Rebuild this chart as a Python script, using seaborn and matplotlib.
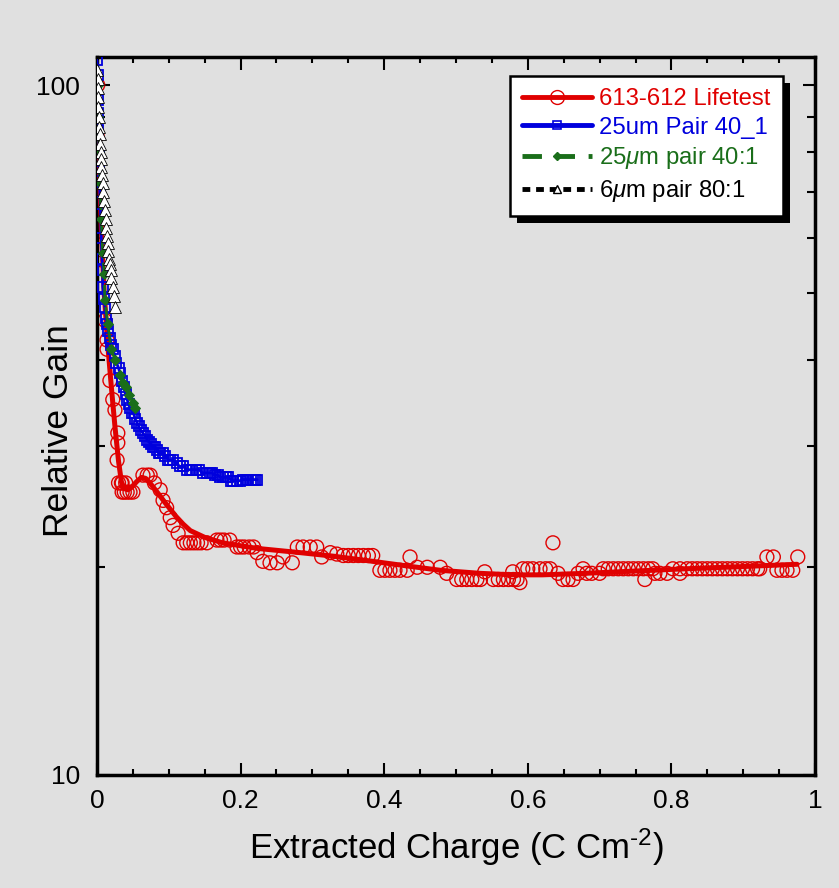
import numpy as np
import pandas as pd
import seaborn as sns
import matplotlib.pyplot as plt
from matplotlib.lines import Line2D
from matplotlib.patches import Rectangle
from matplotlib.transforms import IdentityTransform
from matplotlib import ticker

# 613-612 Lifetest, measured points
red_x = [0.001, 0.000, 0.000, 0.001, 0.001, 0.006, 0.006, 0.011, 0.014, 0.014, 0.018, 0.022,
         0.025, 0.029, 0.029, 0.028, 0.035, 0.035, 0.030, 0.034, 0.038, 0.042, 0.046, 0.050,
         0.040, 0.064, 0.070, 0.074, 0.080, 0.088, 0.092, 0.097, 0.102, 0.106, 0.113,
         0.120, 0.125, 0.130, 0.135, 0.140, 0.145, 0.153, 0.167, 0.172, 0.177, 0.185,
         0.195, 0.200, 0.205, 0.212, 0.218, 0.223, 0.231, 0.241, 0.251, 0.259, 0.272,
         0.279, 0.287, 0.297, 0.306, 0.313, 0.325, 0.334, 0.343, 0.350, 0.357, 0.364,
         0.371, 0.378, 0.384, 0.394, 0.401, 0.408, 0.415, 0.422, 0.432, 0.436, 0.446,
         0.460, 0.478, 0.487, 0.501, 0.508, 0.515, 0.522, 0.529, 0.534, 0.540, 0.552,
         0.559, 0.566, 0.573, 0.580, 0.585, 0.579, 0.593, 0.600, 0.607, 0.617, 0.589,
         0.625, 0.631, 0.635, 0.642, 0.649, 0.656, 0.663, 0.670, 0.677, 0.682, 0.689,
         0.700, 0.705, 0.712, 0.719, 0.726, 0.733, 0.740, 0.747, 0.754, 0.761, 0.768,
         0.774, 0.763, 0.777, 0.784, 0.794, 0.802, 0.812, 0.812, 0.822, 0.829, 0.836,
         0.843, 0.850, 0.857, 0.864, 0.871, 0.878, 0.885, 0.892, 0.899, 0.906, 0.913,
         0.920, 0.923, 0.933, 0.942, 0.947, 0.954, 0.961, 0.969, 0.976]
red_y = [100, 84.5, 73.5, 67.5, 63.4, 57.7, 55.8, 45.6, 42.7, 41.4, 37.3, 35.0,
         33.8, 31.3, 30.3, 28.6, 26.5, 25.7, 26.5, 26.5, 25.7, 25.7, 25.7, 25.7,
         26.5, 27.2, 27.2, 27.2, 26.5, 25.9, 25.0, 24.4, 23.6, 23.0, 22.4,
         21.7, 21.7, 21.7, 21.7, 21.7, 21.7, 21.7, 21.9, 21.9, 21.9, 21.9,
         21.4, 21.4, 21.4, 21.4, 21.4, 21.0, 20.4, 20.3, 20.3, 20.7, 20.3,
         21.4, 21.4, 21.4, 21.4, 20.7, 21.0, 20.9, 20.8, 20.8, 20.8, 20.8,
         20.8, 20.8, 20.8, 19.8, 19.8, 19.8, 19.8, 19.8, 19.8, 20.7, 20.0,
         20.0, 20.0, 19.6, 19.2, 19.2, 19.2, 19.2, 19.2, 19.2, 19.7, 19.2,
         19.2, 19.2, 19.2, 19.2, 19.2, 19.7, 19.9, 19.9, 19.9, 19.9, 19.0,
         19.9, 19.9, 21.7, 19.6, 19.2, 19.2, 19.2, 19.6, 19.9, 19.6, 19.6,
         19.6, 19.9, 19.9, 19.9, 19.9, 19.9, 19.9, 19.9, 19.9, 19.9, 19.9,
         19.9, 19.2, 19.6, 19.6, 19.6, 19.9, 19.9, 19.6, 19.9, 19.9, 19.9,
         19.9, 19.9, 19.9, 19.9, 19.9, 19.9, 19.9, 19.9, 19.9, 19.9, 19.9,
         19.9, 19.9, 20.7, 20.7, 19.8, 19.8, 19.8, 19.8, 20.7]

# 613-612 Lifetest, smooth curve
red_fit_x = [0.001, 0.003, 0.006, 0.010, 0.015, 0.020, 0.025, 0.030, 0.034, 0.038, 0.043,
             0.048, 0.055, 0.062, 0.068, 0.075, 0.085, 0.095, 0.110, 0.120, 0.130, 0.150,
             0.175, 0.223, 0.283, 0.330, 0.384, 0.430, 0.478, 0.533, 0.580, 0.620, 0.680,
             0.750, 0.820, 0.900, 0.975]
red_fit_y = [100, 78, 62, 50, 42, 36.5, 32, 28.5, 26.6, 26.0, 25.9,
             26.1, 26.6, 27.0, 26.9, 26.4, 25.6, 24.8, 23.7, 23.1, 22.6, 22.1,
             21.7, 21.3, 21.0, 20.75, 20.4, 20.1, 19.8, 19.6, 19.5, 19.5, 19.6,
             19.75, 19.9, 20.05, 20.2]

# 25um Pair 40_1
blue_x = [0.000, 0.001, 0.001, 0.002, 0.002, 0.003, 0.003, 0.004, 0.005, 0.006, 0.007,
          0.008, 0.008, 0.010, 0.011, 0.013, 0.014, 0.016, 0.018, 0.020, 0.022, 0.025,
          0.027, 0.030, 0.032, 0.035, 0.037, 0.040, 0.042, 0.044, 0.046, 0.049, 0.051,
          0.053, 0.056, 0.058, 0.061, 0.064, 0.067, 0.070, 0.072, 0.075, 0.078, 0.081,
          0.083, 0.086, 0.088, 0.092, 0.095, 0.099, 0.102, 0.106, 0.111, 0.115, 0.120,
          0.125, 0.129, 0.133, 0.138, 0.142, 0.147, 0.153, 0.157, 0.160, 0.164, 0.168,
          0.172, 0.175, 0.179, 0.183, 0.187, 0.190, 0.195, 0.199, 0.203, 0.207, 0.210,
          0.214, 0.217, 0.220, 0.223]
blue_y = [108.6, 103.4, 95, 91, 86, 80, 75, 70, 65, 60, 56,
          54, 51, 49, 47.6, 46, 45, 44, 43, 42, 41.4, 40.5,
          39.6, 38.9, 38.3, 37.3, 36.5, 35.6, 35.0, 34.5, 34.0, 33.5, 33.5,
          32.8, 32.4, 32.0, 31.6, 31.3, 31.0, 30.6, 30.4, 30.2, 29.9, 29.9,
          29.6, 29.3, 29.3, 29.3, 29.0, 28.6, 28.6, 28.6, 28.3, 28.0, 28.0,
          27.7, 27.7, 27.7, 27.7, 27.7, 27.4, 27.4, 27.4, 27.4, 27.2, 27.2,
          27.0, 27.0, 27.0, 27.0, 26.7, 26.7, 26.7, 26.7, 26.8, 26.8, 26.8,
          26.8, 26.8, 26.8, 26.8]

# 25um pair 40:1
green_x = [0.001, 0.002, 0.003, 0.004, 0.006, 0.008, 0.010, 0.011, 0.015, 0.020, 0.025,
           0.032, 0.036, 0.040, 0.045, 0.050, 0.053]
green_y = [100, 90, 80, 72, 64, 57, 53.3, 48.8, 45, 41.4, 40,
           38, 37, 36.5, 35.5, 34.6, 34.0]

# 6um pair 80:1
black_x = [0.000, 0.001, 0.001, 0.002, 0.002, 0.003, 0.003, 0.004, 0.004, 0.005,
           0.006, 0.006, 0.007, 0.008, 0.009, 0.010, 0.011, 0.012, 0.013, 0.014,
           0.015, 0.016, 0.017, 0.018, 0.019, 0.020, 0.022, 0.023, 0.025]
black_y = [105, 102, 99, 96, 93, 90, 87, 85, 82, 80,
           78, 76, 74, 72, 70, 68, 66, 64, 62, 60.5,
           59, 57.5, 56, 55, 54, 52.5, 51, 49.5, 47.6]

red = '#e00000'
blue = '#0000dd'
green = '#1a6e1a'
bg = '#e0e0e0'

sns.set_style('ticks', {'axes.facecolor': bg, 'figure.facecolor': bg,
                        'text.color': 'black', 'axes.labelcolor': 'black',
                        'xtick.color': 'black', 'ytick.color': 'black'})
plt.rcParams['font.family'] = ['Liberation Sans', 'DejaVu Sans']
plt.rcParams['mathtext.fontset'] = 'custom'
plt.rcParams['mathtext.it'] = 'Liberation Sans:italic'
plt.rcParams['mathtext.rm'] = 'Liberation Sans'

fig = plt.figure(figsize=(8.39, 8.88), dpi=100)
ax = fig.add_axes([0.1156, 0.1273, 0.8558, 0.8085])

sns.lineplot(x=red_fit_x, y=red_fit_y, ax=ax, color=red, lw=3.6, sort=False, estimator=None, zorder=3)
sns.scatterplot(x=red_x, y=red_y, ax=ax, marker='o', s=100, facecolor='none', edgecolor=red,
                linewidth=1.0, zorder=2)

sns.lineplot(x=blue_x, y=blue_y, ax=ax, color=blue, lw=2, sort=False, estimator=None,
             marker='s', markersize=6.5, markerfacecolor='none', markeredgecolor=blue,
             markeredgewidth=1.3, zorder=4)

sns.lineplot(x=green_x, y=green_y, ax=ax, color=green, lw=2, sort=False, estimator=None,
             linestyle=(0, (5, 3)), marker='D', markersize=5, markerfacecolor=green,
             markeredgecolor=green, zorder=5)

sns.lineplot(x=black_x, y=black_y, ax=ax, color='black', lw=2, sort=False, estimator=None,
             linestyle=(0, (3, 2)), marker='^', markersize=8, markerfacecolor='white',
             markeredgecolor='black', markeredgewidth=0.6, zorder=6)

ax.set_yscale('log')
ax.set_xlim(0, 1)
ax.set_ylim(10, 109.8)
ax.xaxis.set_major_locator(ticker.MultipleLocator(0.2))
ax.xaxis.set_minor_locator(ticker.MultipleLocator(0.05))
ax.xaxis.set_major_formatter(ticker.FuncFormatter(lambda v, p: f'{v:g}'))
ax.yaxis.set_major_locator(ticker.FixedLocator([10, 100]))
ax.yaxis.set_major_formatter(ticker.FixedFormatter(['10', '100']))
ax.yaxis.set_minor_locator(ticker.FixedLocator([20, 30, 40, 50, 60, 70, 80, 90]))
ax.yaxis.set_minor_formatter(ticker.NullFormatter())

ax.tick_params(which='both', direction='in', top=True, right=True, width=1.5,
               labelsize=19, colors='black')
ax.tick_params(axis='x', which='major', length=9, pad=10)
ax.tick_params(axis='x', which='minor', length=4.5)
ax.tick_params(axis='y', which='major', length=9, pad=12)
ax.tick_params(axis='y', which='minor', length=6)
for s in ax.spines.values():
    s.set_linewidth(2.5)
    s.set_color('black')

ax.set_xlabel('Extracted Charge (C Cm$^{\\mathregular{\u20102}}$)', fontsize=25, labelpad=10)
ax.set_ylabel('Relative Gain', fontsize=25.5)
ax.yaxis.set_label_coords(-0.03, 0.48)

handles = [
    Line2D([], [], color=red, lw=3.5, marker='o', ms=10, mfc='none', mec=red, mew=1),
    Line2D([], [], color=blue, lw=3.5, marker='s', ms=6, mfc='none', mec=blue, mew=1.2),
    Line2D([], [], color=green, lw=3.5, ls=(0, (4, 2.8)), marker='D', ms=4.5, mfc=green, mec=green),
    Line2D([], [], color='black', lw=3.5, ls=(0, (1.6, 1.2)), marker='^', ms=6, mfc='white', mec='black', mew=1),
]
labels = ['613-612 Lifetest', '25um Pair 40_1', '25$\\mu$m pair 40:1', '6$\\mu$m pair 80:1']
leg = ax.legend(handles, labels, loc='upper right', bbox_to_anchor=(0.955, 0.9735),
                borderaxespad=0, prop={'family': ['Liberation Sans', 'DejaVu Sans'], 'size': 17.2},
                handlelength=2.95, handletextpad=0.3, labelspacing=0.28, borderpad=0.5,
                fancybox=False, framealpha=1, edgecolor='black', facecolor='white')
leg.get_frame().set_linewidth(1.8)
for t, c in zip(leg.get_texts(), [red, blue, green, 'black']):
    t.set_color(c)

fig.canvas.draw()
bb = leg.get_window_extent()
shadow = Rectangle((bb.x0 + 7, bb.y0 - 7), bb.width, bb.height, transform=IdentityTransform(),
                   facecolor='black', edgecolor='none', zorder=leg.get_zorder() - 0.1)
ax.add_artist(shadow)

fig.savefig('out.png', dpi=100, facecolor=bg)
